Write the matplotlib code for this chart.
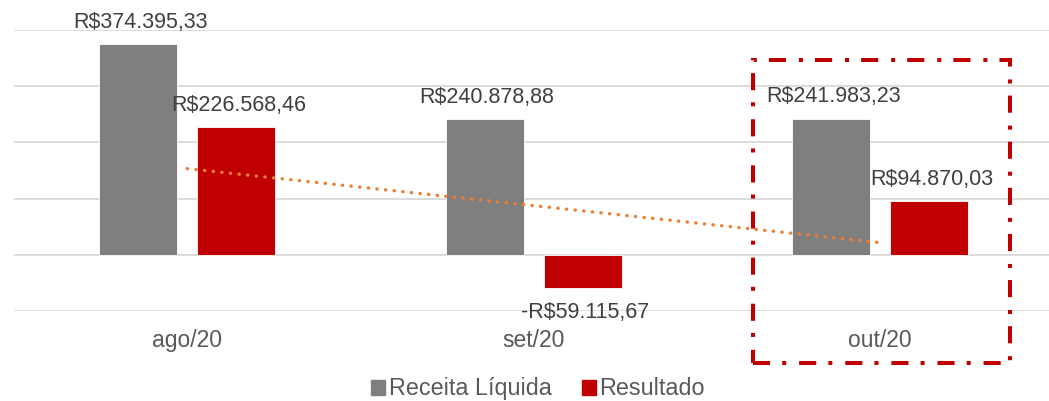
import numpy as np
import matplotlib.pyplot as plt
from matplotlib.patches import Patch, Rectangle

plt.rcParams['font.family'] = ['Liberation Sans', 'DejaVu Sans']

meses = ['ago/20', 'set/20', 'out/20']
receita = [374395.33, 240878.88, 241983.23]
resultado = [226568.46, -59115.67, 94870.03]
series = ['Receita Líquida', 'Resultado']

CINZA = '#7F7F7F'
VERMELHO = '#C00000'
LARANJA = '#ED7D31'


def brl(v):
    s = f'{abs(v):,.2f}'.replace(',', '#').replace('.', ',').replace('#', '.')
    return ('-' if v < 0 else '') + 'R$' + s


fig = plt.figure(figsize=(10.49, 4.01), dpi=100)
W, H = 1049, 401
ax = fig.add_axes([14 / W, (H - 311) / H, 1039.5 / W, 281 / H])

x = np.arange(len(meses))
w = 0.225
off = 0.142
b1 = ax.bar(x - off, receita, w, color=CINZA, edgecolor='white', linewidth=0.6, zorder=2)
b2 = ax.bar(x + off, resultado, w, color=VERMELHO, edgecolor='white', linewidth=0.6, zorder=2)

for bars, vals in ((b1, receita), (b2, resultado)):
    for b, v in zip(bars, vals):
        cx = b.get_x() + b.get_width() / 2
        dy = 16 if v >= 0 else -17.5
        ax.annotate(brl(v), (cx, v), xytext=(1.5, dy), textcoords='offset points',
                    ha='center', va='center', fontsize=15.5, color='#404040', zorder=4)

# linha de tendencia (linear) do resultado
coef = np.polyfit(x, resultado, 1)
ax.plot(x, np.polyval(coef, x), color=LARANJA, lw=2.4, linestyle=(0, (0.1, 2.5)),
        dash_capstyle='round', zorder=3)

ax.set_xlim(-0.5, 2.5)
ax.set_ylim(-100000, 400000)
ax.set_yticks(np.arange(-100000, 400001, 100000))
ax.yaxis.grid(True, color='#D9D9D9', lw=1.3, zorder=0)
ax.set_axisbelow(True)
ax.tick_params(axis='y', left=False, labelleft=False)
ax.set_xticks(x)
ax.set_xticklabels(meses, fontsize=16.5, color='#595959')
ax.tick_params(axis='x', length=0, pad=13)
for s in ax.spines.values():
    s.set_visible(False)

# destaque do ultimo mes
fig.patches.append(Rectangle((753 / W, (H - 363) / H), 257 / W, 303 / H,
                             transform=fig.transFigure, fill=False, edgecolor=VERMELHO,
                             lw=2.9, linestyle=(0, (4.25, 3, 1, 3.2)), zorder=5))

handles = [Patch(color=CINZA), Patch(color=VERMELHO)]
fig.legend(handles, series, loc='center', bbox_to_anchor=(0.513, 0.03), ncol=2,
           frameon=False, fontsize=16.8, handlelength=0.6, handleheight=0.6,
           handletextpad=0.15, columnspacing=1.3, labelcolor='#595959')

fig.savefig('out.png', dpi=100)
